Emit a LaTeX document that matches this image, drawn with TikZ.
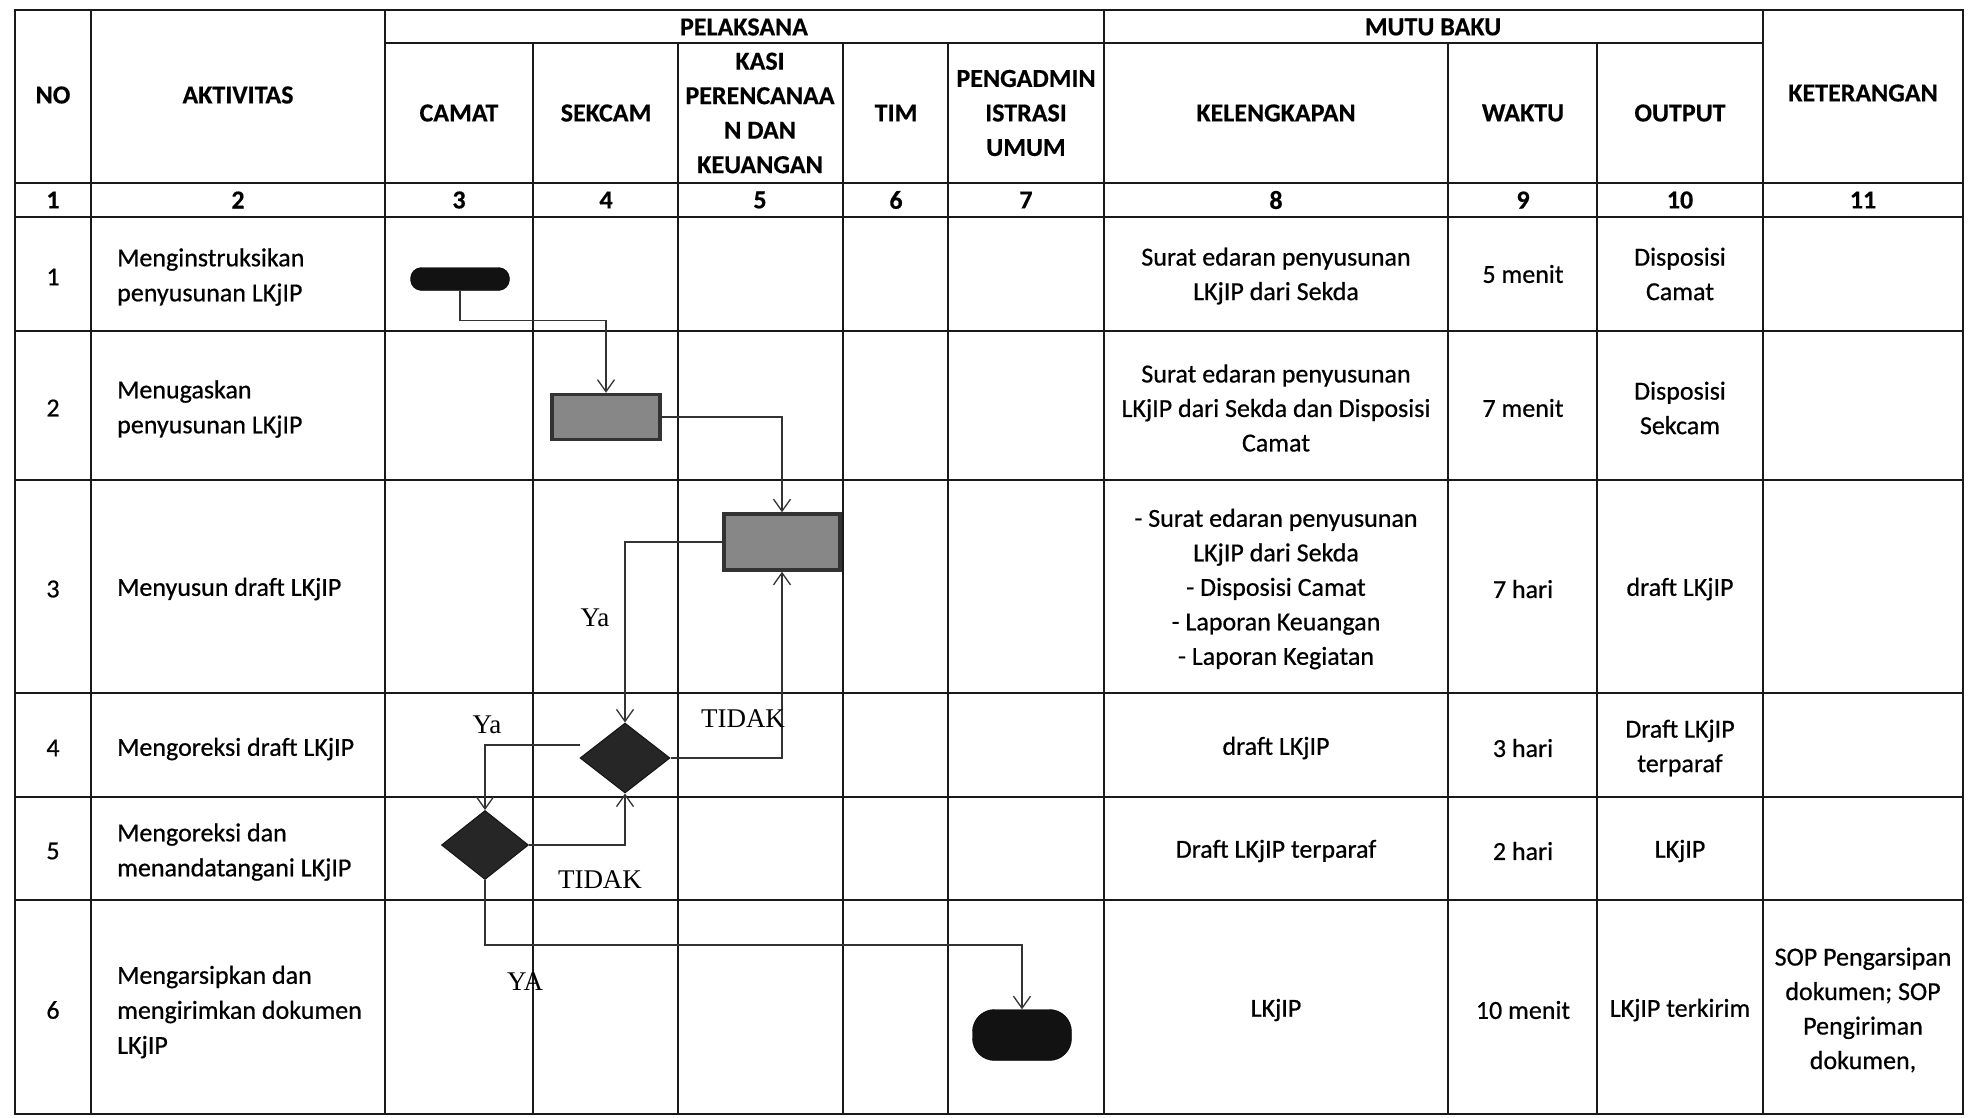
\documentclass[tikz,border=0pt]{standalone}
\usepackage{fontspec}
\setmainfont{Carlito}
\newfontfamily\bodyf[FakeBold=0.6]{Carlito}
\newfontfamily\headf[FakeBold=0.4]{Carlito Bold}
\newfontfamily\tnr{Liberation Serif}
\usetikzlibrary{shapes.geometric,arrows.meta,calc}
\begin{document}
\begin{tikzpicture}[x=1pt,y=-1pt,
  tline/.style={line width=2.8pt, draw=black!90, line cap=rect},
  hd/.style={font=\headf\fontsize{26}{34.5}\selectfont, align=center, inner sep=0pt},
  tx/.style={font=\bodyf\fontsize{26}{34.5}\selectfont, align=center, inner sep=0pt},
  txl/.style={font=\bodyf\fontsize{26}{35}\selectfont, align=left, anchor=west, inner sep=0pt},
  lbl/.style={font=\tnr\fontsize{27}{30}\selectfont, inner sep=0pt},
  term/.style={rectangle, fill=black!93, draw=black, inner sep=0pt},
  proc/.style={rectangle, fill=black!47, draw=black!80, line width=3.5pt, inner sep=0pt},
  dec/.style={diamond, fill=black!85, draw=black!92, line width=1pt, inner sep=0pt},
  arr/.style={draw=black!80, line width=1.3pt, -{Straight Barb[length=12pt,width=17pt,line width=1.3pt]}}
]
\useasboundingbox[fill=white] (0,0) rectangle (1976,1117);

% ---------- table grid ----------
\foreach \yy in {10,183,217,331,480,693,797,900,1114}
  \draw[tline] (15,\yy) -- (1963,\yy);
\draw[tline] (385,43) -- (1763,43);
\foreach \xx in {15,91,385,1104,1763,1963}
  \draw[tline] (\xx,10) -- (\xx,1114);
\foreach \xx in {533,678,843,948,1448,1597}
  \draw[tline] (\xx,43) -- (\xx,1114);

% ---------- header ----------
\node[hd] (hNo) at (53,95) {NO};
\node[hd] (hAkt) at (238,95) {AKTIVITAS};
\node[hd] (hPel) at (744,27) {PELAKSANA};
\node[hd] (hMutu) at (1433,27) {MUTU BAKU};
\node[hd] (hKet) at (1863,93) {KETERANGAN};
\node[hd] (hCamat) at (459,113) {CAMAT};
\node[hd] (hSekcam) at (606,113) {SEKCAM};
\node[hd] (hKasi) at (760,113) {KASI\\PERENCANAA\\N DAN\\KEUANGAN};
\node[hd] (hTim) at (896,113) {TIM};
\node[hd] (hPeng) at (1026,113) {PENGADMIN\\ISTRASI\\UMUM};
\node[hd] (hKel) at (1276,113) {KELENGKAPAN};
\node[hd] (hWaktu) at (1523,113) {WAKTU};
\node[hd] (hOut) at (1680,113) {OUTPUT};

% ---------- number row ----------
\foreach \xx/\nn in {53/1,238/2,459/3,606/4,760/5,896/6,1026/7,1276/8,1523/9,1680/10,1863/11}
  \node[hd] (n\nn) at (\xx,200) {\nn};

% ---------- body: column 1 & 2 ----------
\node[tx] (r1no) at (53,277) {1};
\node[tx] (r2no) at (53,408) {2};
\node[tx] (r3no) at (53,589) {3};
\node[tx] (r4no) at (53,748) {4};
\node[tx] (r5no) at (53,851) {5};
\node[tx] (r6no) at (53,1010) {6};

\node[txl] (r1a) at (117,277) {Menginstruksikan\\penyusunan LKjIP};
\node[txl] (r2a) at (117,409) {Menugaskan\\penyusunan LKjIP};
\node[txl] (r3a) at (117,589) {Menyusun draft LKjIP};
\node[txl] (r4a) at (117,749) {Mengoreksi draft LKjIP};
\node[txl] (r5a) at (117,852) {Mengoreksi dan\\menandatangani LKjIP};
\node[txl] (r6a) at (117,1012) {Mengarsipkan dan\\mengirimkan dokumen\\LKjIP};

% ---------- body: columns 8-11 ----------
\node[tx] (r1k) at (1276,276) {Surat edaran penyusunan\\LKjIP dari Sekda};
\node[tx] (r1w) at (1523,274) {5 menit};
\node[tx] (r1o) at (1680,274) {Disposisi\\Camat};

\node[tx] (r2k) at (1276,408) {Surat edaran penyusunan\\LKjIP dari Sekda dan Disposisi\\Camat};
\node[tx] (r2w) at (1523,408) {7 menit};
\node[tx] (r2o) at (1680,408) {Disposisi\\Sekcam};

\node[tx] (r3k) at (1276,589) {- Surat edaran penyusunan\\LKjIP dari Sekda\\- Disposisi Camat\\- Laporan Keuangan\\- Laporan Kegiatan};
\node[tx] (r3w) at (1523,589) {7 hari};
\node[tx] (r3o) at (1680,589) {draft LKjIP};

\node[tx] (r4k) at (1276,748) {draft LKjIP};
\node[tx] (r4w) at (1523,748) {3 hari};
\node[tx] (r4o) at (1680,748) {Draft LKjIP\\terparaf};

\node[tx] (r5k) at (1276,851) {Draft LKjIP terparaf};
\node[tx] (r5w) at (1523,851) {2 hari};
\node[tx] (r5o) at (1680,851) {LKjIP};

\node[tx] (r6k) at (1276,1010) {LKjIP};
\node[tx] (r6w) at (1523,1010) {10 menit};
\node[tx] (r6o) at (1680,1010) {LKjIP terkirim};
\node[tx] (r6ket) at (1863,1010) {SOP Pengarsipan\\dokumen; SOP\\Pengiriman\\dokumen,};

% ---------- flowchart shapes ----------
\node[term, rounded corners=11pt, minimum width=99pt, minimum height=23pt] (start) at (460,279) {};
\node[proc, minimum width=108pt, minimum height=45pt] (p1) at (606,417) {};
\node[proc, minimum width=116pt, minimum height=56pt] (p2) at (782,542) {};
\node[dec, minimum width=90pt, minimum height=70pt] (d1) at (625,758) {};
\node[dec, minimum width=87pt, minimum height=69pt] (d2) at (485,845) {};
\node[term, rounded corners=22pt, minimum width=99pt, minimum height=51pt] (stop) at (1022,1035) {};

% ---------- connectors ----------
\draw[arr] (start.south) -- ++(0,30) -| (p1.north);
\draw[arr] (p1.east) -| (p2.north);
\draw[arr] (p2.west) -| (d1.north);
\draw[arr] (d1.east) -| (p2.south);
\draw[arr] ([yshift=13pt]d1.west) -| (d2.north);
\draw[arr] (d2.east) -| (d1.south);
\draw[arr] (d2.south) -- ++(0,65) -| (stop.north);

% ---------- labels ----------
\node[lbl] (lYa1) at (595,618) {Ya};
\node[lbl] (lTidak1) at (743,719) {TIDAK};
\node[lbl] (lYa2) at (487,725) {Ya};
\node[lbl] (lTidak2) at (600,880) {TIDAK};
\node[lbl] (lYa3) at (525,982) {YA};
\end{tikzpicture}
\end{document}
